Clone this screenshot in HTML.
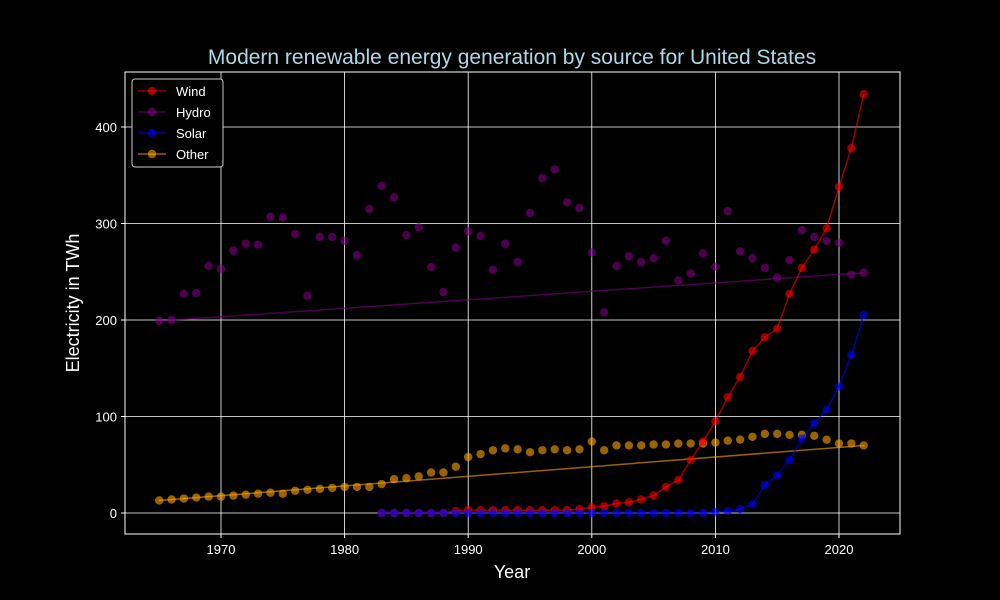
<!DOCTYPE html>
<html><head><meta charset="utf-8"><style>
html,body{margin:0;padding:0;background:#000;overflow:hidden;width:1000px;height:600px;}
svg{display:block;}
svg text{font-family:"Liberation Sans","DejaVu Sans",sans-serif;}
</style></head><body>
<svg id="chart" width="1000" height="600" xmlns="http://www.w3.org/2000/svg">
<rect width="1000" height="600" fill="#000"/>
<g id="grid"></g>
<g id="series"></g>
<rect x="125" y="72" width="775" height="462" fill="none" stroke="#fff" stroke-width="1"/>
<g id="ticks"></g>
<text x="512" y="64" text-anchor="middle" font-size="21" fill="#add8e6">Modern renewable energy generation by source for United States</text>
<text x="512" y="578" text-anchor="middle" font-size="18" fill="#fff">Year</text>
<text transform="translate(79,303) rotate(-90)" text-anchor="middle" font-size="18" fill="#fff">Electricity in TWh</text>
<g id="legend"></g>
</svg>
<script>
const hydroYears=[];for(let y=1965;y<=2022;y++)hydroYears.push(y);
const hydroValues=[199,200,227,228,256,253,272,279,278,307,306,289,225,286,286,282,267,315,339,327,288,296,255,229,275,292,287,252,279,260,311,347,356,322,316,270,208,256,266,260,264,282,241,248,269,255,313,271,264,254,244,262,293,286,282,280,247,249];
const otherValues=[13,14,15,16,17,17,18,19,20,21,20,23,24,25,26,27,27,27,30,35,36,38,42,42,48,58,61,65,67,66,63,65,66,65,66,74,65,70,70,70,71,71,72,72,72,73,75,76,79,82,82,81,81,80,76,72,72,70];
const windYears=[];for(let y=1983;y<=2022;y++)windYears.push(y);
const windValues=[0,0,0,0,0,0,2,3,3,3,3,3,3,3,3,3,4,6,7,10,11,14,18,27,34,55,74,95,120,141,168,182,191,227,254,273,295,338,378,434];
const solarValues=[0,0,0,0,0,0,0,0,0,0,0,0,0,0,0,0,0,0,0,0,0,0,0,0,0,0,0,1,2,4,9,29,39,55,77,93,107,131,164,205];
const xTicks=[1970,1980,1990,2000,2010,2020];
const yTicks=[0,100,200,300,400];

const NS="http://www.w3.org/2000/svg";
const xs=y=>221+(y-1970)*12.36;
const ys=v=>513-v*0.965;
function mk(tag,attrs,parent){const e=document.createElementNS(NS,tag);for(const k in attrs)e.setAttribute(k,attrs[k]);parent.appendChild(e);return e;}
const grid=document.getElementById('grid'),ticks=document.getElementById('ticks'),series=document.getElementById('series'),legend=document.getElementById('legend');
xTicks.forEach(t=>{
 const l=mk('line',{x1:xs(t),x2:xs(t),y1:72,y2:534,stroke:'#fff','stroke-width':0.8},grid);
 
 
 mk('line',{x1:xs(t),x2:xs(t),y1:534,y2:538,stroke:'#fff'},ticks);
 const tx=mk('text',{x:xs(t),y:554,'text-anchor':'middle','font-size':13,fill:'#fff'},ticks);tx.textContent=t;
 
 
});
yTicks.forEach(t=>{
 const l=mk('line',{x1:125,x2:900,y1:ys(t),y2:ys(t),stroke:'#fff','stroke-width':0.8},grid);
 
 
 mk('line',{x1:121,x2:125,y1:ys(t),y2:ys(t),stroke:'#fff'},ticks);
 const tx=mk('text',{x:117,y:ys(t)+5,'text-anchor':'end','font-size':13,fill:'#fff'},ticks);tx.textContent=t;
 
 
});
function draw(name,years,vals,color,straight){
 const g=mk('g',{},series);
 
 
 let pts;
 if(straight){pts=[[xs(years[0]),ys(vals[0])],[xs(years[years.length-1]),ys(vals[vals.length-1])]];}
 else pts=years.map((y,i)=>[xs(y),ys(vals[i])]);
 const pl=mk('polyline',{points:pts.map(p=>p.join(',')).join(' '),fill:'none',stroke:color,'stroke-width':1.5,'stroke-opacity':0.6},g);
 
 
 years.forEach((y,i)=>{
  const c=mk('circle',{cx:xs(y),cy:ys(vals[i]),r:4.2,fill:color,'fill-opacity':0.6},g);
  
  
 });
}
draw('hydro',hydroYears,hydroValues,'#800080',true);
draw('other',hydroYears,otherValues,'#ffa500',true);
draw('wind',windYears,windValues,'#ff0000',false);
draw('solar',windYears,solarValues,'#0000ff',false);
const lb=mk('rect',{x:132,y:79,width:91,height:88,fill:'#000',stroke:'#ccc','stroke-width':1,rx:3},legend);


[['Wind','#ff0000'],['Hydro','#800080'],['Solar','#0000ff'],['Other','#ffa500']].forEach((e,i)=>{
 const y=91+i*21;
 const g=mk('g',{},legend);
 
 
 mk('line',{x1:138,x2:166,y1:y,y2:y,stroke:e[1],'stroke-opacity':0.6,'stroke-width':1.5},g);
 mk('circle',{cx:152,cy:y,r:4.2,fill:e[1],'fill-opacity':0.6},g);
 const t=mk('text',{x:176,y:y+5,'font-size':13,fill:'#fff'},g);t.textContent=e[0];
});
</script>
</body></html>
